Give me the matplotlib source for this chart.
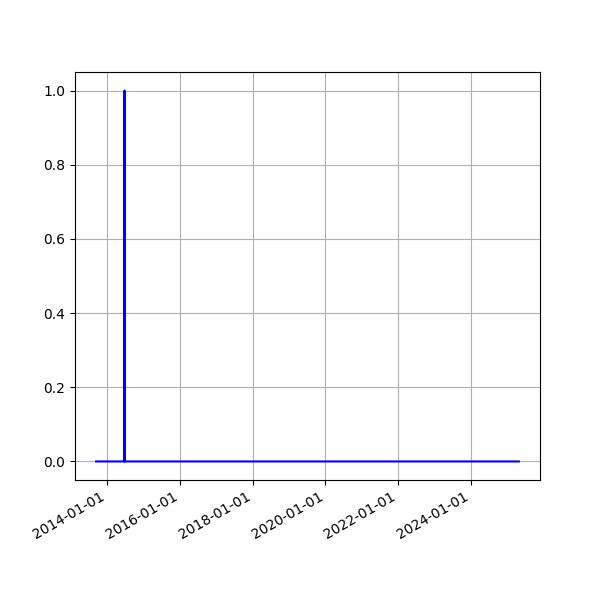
import matplotlib
matplotlib.use("Agg")
import matplotlib.pyplot as plt
import matplotlib.dates as mdates
import pandas as pd

# event series: zero everywhere except a single day
dates = ["2013-09-15", "2014-06-26", "2014-06-27", "2014-06-28", "2025-04-26"]
values = [0, 0, 1, 0, 0]

x = pd.to_datetime(dates)

fig, ax = plt.subplots(figsize=(6, 6), dpi=100)
ax.plot(x, values, color="blue")
ax.grid(True)
ax.xaxis.set_major_locator(mdates.YearLocator(2))
ax.xaxis.set_major_formatter(mdates.DateFormatter("%Y-%m-%d"))
fig.autofmt_xdate()

fig.savefig("out.png")
plt.close()
